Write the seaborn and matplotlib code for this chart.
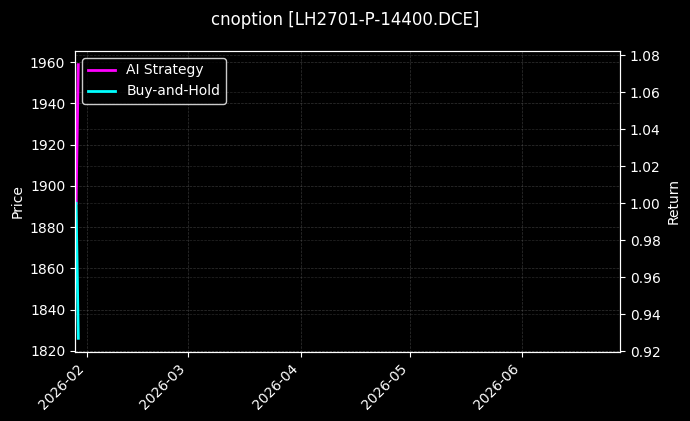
import pandas as pd
import matplotlib
matplotlib.use("Agg")
import matplotlib.pyplot as plt
import matplotlib.dates as mdates
import seaborn as sns

# data
dates = pd.to_datetime(["2026-01-29 03:00", "2026-01-29 18:00"])
price = [1958.8, 1826.1]
ai_strategy = [1.0, 1.075]
buy_and_hold = [1.0, 0.927]
x_start = pd.Timestamp("2026-01-28 20:00")
x_end = pd.Timestamp("2026-06-27 22:00")

plt.style.use("dark_background")
plt.rcParams["font.family"] = ["DejaVu Sans"]

df = pd.DataFrame({"date": dates, "price": price,
                   "ai": ai_strategy, "bh": buy_and_hold})

fig = plt.figure(figsize=(6.9, 4.21), dpi=100)
ax1 = fig.add_axes([0.1087, 0.1639, 0.7899, 0.7150])

sns.lineplot(data=df, x="date", y="price", ax=ax1, color="#333333", linewidth=0.8)
ax1.set_ylabel("Price")
ax1.set_xlabel("")
ax1.grid(True, color="gray", linestyle="--", linewidth=0.5, alpha=0.4)

ax2 = ax1.twinx()
sns.lineplot(data=df, x="date", y="ai", ax=ax2, color="magenta",
             linewidth=2, label="AI Strategy")
sns.lineplot(data=df, x="date", y="bh", ax=ax2, color="cyan",
             linewidth=2, label="Buy-and-Hold")
ax2.set_ylabel("Return")
ax2.set_xlabel("")
ax2.grid(True, color="gray", linestyle="--", linewidth=0.5, alpha=0.3)
ax2.legend(loc="upper left", facecolor="black", edgecolor="white", fontsize=10)

ax1.set_xlim(x_start, x_end)
ax1.xaxis.set_major_locator(mdates.MonthLocator())
ax1.xaxis.set_major_formatter(mdates.DateFormatter("%Y-%m"))
plt.setp(ax1.get_xticklabels(), rotation=45, ha="right")

fig.suptitle("cnoption [LH2701-P-14400.DCE]", fontsize=12, y=0.975)

fig.savefig("out.png", dpi=100, facecolor="black")
